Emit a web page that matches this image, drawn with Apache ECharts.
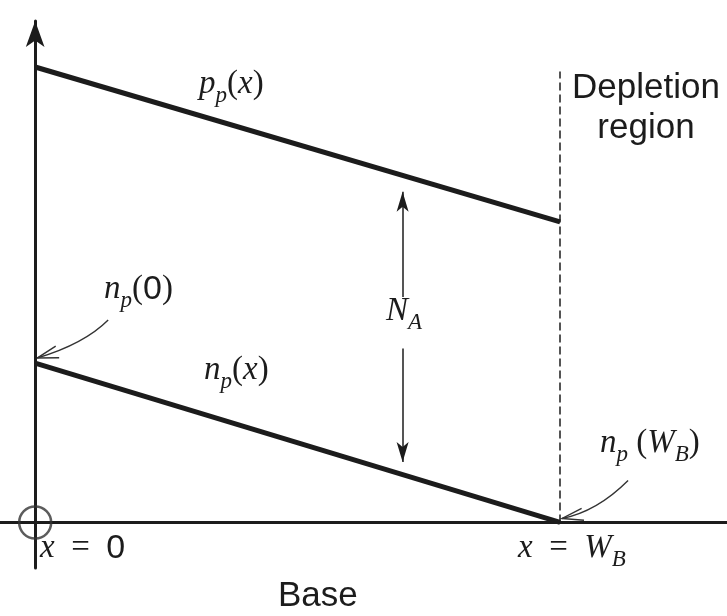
<!DOCTYPE html>
<html>
<head>
<meta charset="utf-8">
<script src="https://cdn.jsdelivr.net/npm/echarts@6/dist/echarts.min.js"></script>
<style>
html, body { margin: 0; padding: 0; background: #fff; }
#main { width: 727px; height: 616px; }
</style>
</head>
<body>
<div id="main"></div>
<script>
// x in units of the base width W_B, y in arbitrary concentration units
var xPos = [0, 1];
var ppVals = [10, 6.6];      // p_p(x), majority holes
var npVals = [3.5, 0];       // n_p(x), minority electrons
var depletionTop = 9.9;      // top of the dashed depletion edge
var naX = 0.7;               // where the N_A double arrow stands
var naLabelY = 4.4;          // centre of the N_A label

var ink = '#1c1c1c';

var pp = xPos.map(function(x, i) { return [x, ppVals[i]]; });
var np = xPos.map(function(x, i) { return [x, npVals[i]]; });

// value of a straight line at x
var lineAt = function(vals, x) {
	return vals[0] + (vals[1] - vals[0]) * (x - xPos[0]) / (xPos[1] - xPos[0]);
};

var chartDom = document.getElementById('main');
var myChart = echarts.init(chartDom);

var noAxisBits = {
	axisTick: { show: false },
	axisLabel: { show: false },
	splitLine: { show: false }
};

var option = {
	animation: false,
	grid: { left: 0, right: 0, top: 21, bottom: 48 },
	xAxis: Object.assign({
		type: 'value',
		min: -0.067,
		max: 1.318,
		axisLine: { onZero: true, lineStyle: { color: ink, width: 3 } }
	}, noAxisBits),
	yAxis: Object.assign({
		type: 'value',
		min: -1.0,
		max: 11.01,
		axisLine: {
			onZero: true,
			symbol: ['none', 'arrow'],
			symbolSize: [14, 26],
			lineStyle: { color: ink, width: 3 }
		}
	}, noAxisBits),
	series: [
		{
			type: 'line',
			data: pp,
			symbol: 'none',
			silent: true,
			lineStyle: { color: ink, width: 5 },
			markLine: {
				silent: true,
				symbol: ['none', 'arrow'],
				symbolSize: [9, 20],
				label: { show: false },
				lineStyle: { color: ink, width: 1.5, type: 'solid' },
				data: [
					[{ coord: [naX, naLabelY + 0.55] }, { coord: [naX, lineAt(ppVals, naX) - 0.36] }],
					[{ coord: [naX, naLabelY - 0.58] }, { coord: [naX, lineAt(npVals, naX) + 0.28] }]
				]
			}
		},
		{
			type: 'line',
			data: np,
			symbol: 'none',
			silent: true,
			lineStyle: { color: ink, width: 5 },
			markLine: {
				silent: true,
				symbol: ['none', 'none'],
				label: { show: false },
				lineStyle: { color: ink, width: 1.5, type: [8, 4] },
				data: [
					[{ coord: [xPos[1], 0] }, { coord: [xPos[1], depletionTop] }]
				]
			}
		},
		{
			// the crossed circle at the origin
			type: 'scatter',
			data: [[0, 0]],
			symbol: 'circle',
			symbolSize: 32,
			silent: true,
			itemStyle: { color: 'rgba(0,0,0,0)', borderColor: '#333', borderWidth: 2.5 }
		}
	]
};
myChart.setOption(option);

/* labels with subscripts: pieces laid out by measured width */
var measure = document.createElement('canvas').getContext('2d');
var FONT = {
	i: ['italic', 33, 'Liberation Serif', 0],
	s: ['italic', 23, 'Liberation Serif', 8],
	r: ['normal', 33, 'Liberation Serif', 0],
	d: ['normal', 34, 'Liberation Sans', 0]
};
var EQ = '\u2002=\u2002';
var mathLabel = function(x, base, parts) {
	var children = [], cx = x;
	parts.forEach(function(p) {
		var f = FONT[p[1]];
		var font = f[0] + ' ' + f[1] + 'px "' + f[2] + '"';
		measure.font = font;
		children.push({
			type: 'text',
			x: cx,
			y: base + f[3] - 0.34 * f[1],
			style: { text: p[0], font: font, fill: ink, align: 'left', verticalAlign: 'middle' }
		});
		cx += measure.measureText(p[0]).width;
	});
	return { type: 'group', silent: true, children: children };
};
var plainLabel = function(x, base, text, align) {
	return {
		type: 'text', x: x, y: base - 12, silent: true,
		style: { text: text, font: '35px "Liberation Sans"', fill: ink, align: align, verticalAlign: 'middle' }
	};
};

/* curved pointer with an open arrow head, tip tied to a data point */
var curvedArrow = function(anchor, tipOff, startOff, cpOff) {
	var tip = [anchor[0] + tipOff[0], anchor[1] + tipOff[1]];
	var start = [tip[0] + startOff[0], tip[1] + startOff[1]];
	var cp = [tip[0] + cpOff[0], tip[1] + cpOff[1]];
	var dx = tip[0] - cp[0], dy = tip[1] - cp[1];
	var len = Math.sqrt(dx * dx + dy * dy);
	dx /= len; dy /= len;
	var wing = function(a) {
		var c = Math.cos(a), s = Math.sin(a);
		var rx = dx * c - dy * s, ry = dx * s + dy * c;
		return [tip[0] - 22 * rx, tip[1] - 22 * ry];
	};
	var th = 16 * Math.PI / 180;
	return {
		type: 'group', silent: true,
		children: [
			{
				type: 'bezierCurve',
				shape: { x1: start[0], y1: start[1], x2: tip[0], y2: tip[1], cpx1: cp[0], cpy1: cp[1] },
				style: { stroke: '#333', lineWidth: 1.4, fill: null }
			},
			{
				type: 'polyline',
				shape: { points: [wing(th), tip, wing(-th)] },
				style: { stroke: '#333', lineWidth: 1.4, fill: null }
			}
		]
	};
};

var a0 = myChart.convertToPixel({ gridIndex: 0 }, [xPos[0], npVals[0]]);
var aW = myChart.convertToPixel({ gridIndex: 0 }, [xPos[1], npVals[1]]);

myChart.setOption({
	graphic: [
		mathLabel(199, 96, [['p', 'i'], ['p', 's'], ['(', 'r'], ['x', 'i'], [')', 'r']]),
		mathLabel(104, 301, [['n', 'i'], ['p', 's'], ['(', 'r'], ['0', 'd'], [')', 'r']]),
		mathLabel(204, 382, [['n', 'i'], ['p', 's'], ['(', 'r'], ['x', 'i'], [')', 'r']]),
		mathLabel(386, 323, [['N', 'i'], ['A', 's']]),
		mathLabel(600, 455, [['n', 'i'], ['p', 's'], [' (', 'r'], ['W', 'i'], ['B', 's'], [')', 'r']]),
		mathLabel(40, 560, [['x', 'i'], [EQ, 'r'], ['0', 'd']]),
		mathLabel(518, 560, [['x', 'i'], [EQ, 'r'], ['W', 'i'], ['B', 's']]),
		plainLabel(646, 100, 'Depletion', 'center'),
		plainLabel(646, 140, 'region', 'center'),
		plainLabel(278, 608, 'Base', 'left'),
		curvedArrow(a0, [2, -5], [71, -38], [47, -14]),
		curvedArrow(aW, [2, -4], [66, -38], [35, -7])
	]
});
</script>
</body>
</html>
